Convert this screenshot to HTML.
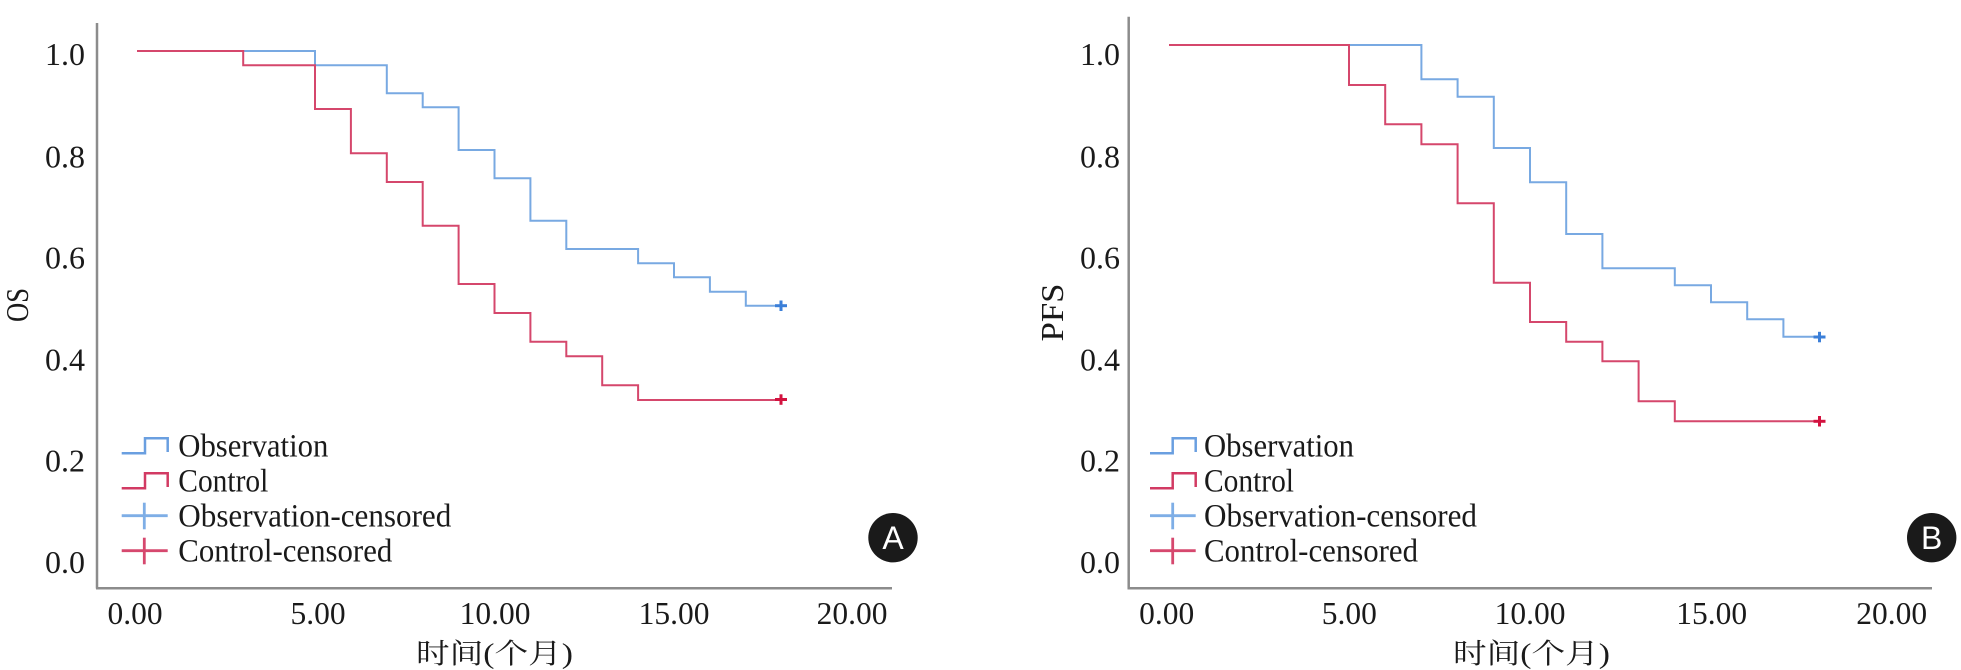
<!DOCTYPE html>
<html>
<head>
<meta charset="utf-8">
<style>
  html, body { margin: 0; padding: 0; background: #ffffff; }
  body { width: 1961px; height: 670px; overflow: hidden; }
  svg { display: block; }
  .t { font-family: "Liberation Serif", "Noto Serif CJK SC", serif; fill: #1a1a1a; }
  .cjk { font-family: "Liberation Serif", "Noto Serif CJK SC", serif; fill: #1a1a1a; }
  .badge { font-family: "Liberation Sans", sans-serif; fill: #ffffff; }
</style>
</head>
<body>
<svg width="1961" height="670" viewBox="0 0 1961 670" xmlns="http://www.w3.org/2000/svg">
  <rect width="1961" height="670" fill="#ffffff"/>

  <!-- ================= PANEL A ================= -->
  <!-- axes -->
  <line x1="97" y1="23" x2="97" y2="588.5" stroke="#8c8c8c" stroke-width="2.5"/>
  <line x1="96" y1="588.3" x2="892" y2="588.3" stroke="#8c8c8c" stroke-width="2.5"/>

  <!-- y tick labels -->
  <g class="t" font-size="32" text-anchor="end">
    <text x="85" y="65">1.0</text>
    <text x="85" y="167.5">0.8</text>
    <text x="85" y="268.5">0.6</text>
    <text x="85" y="370.5">0.4</text>
    <text x="85" y="471.5">0.2</text>
    <text x="85" y="573">0.0</text>
  </g>
  <!-- x tick labels -->
  <g class="t" font-size="31.5" text-anchor="middle">
    <text x="135" y="624">0.00</text>
    <text x="318" y="624">5.00</text>
    <text x="495" y="624">10.00</text>
    <text x="674" y="624">15.00</text>
    <text x="852" y="624">20.00</text>
  </g>
  <!-- axis titles -->
  <text class="t" font-size="32" text-anchor="middle" transform="translate(28,305) rotate(-90)" textLength="34" lengthAdjust="spacingAndGlyphs">OS</text>
  <text class="cjk" font-size="28" x="416" y="663" textLength="157" lengthAdjust="spacingAndGlyphs">时间(个月)</text>

  <!-- curves -->
  <path d="M137 51 H315 V65.3 H386.8 V93.3 H422.7 V107.3 H458.6 V150 H494.5 V178.3 H530.4 V220.7 H566.3 V249 H638.1 V263.3 H674 V277.3 H709.9 V291.7 H745.8 V305.7 H781.7"
        fill="none" stroke="#78a9e2" stroke-width="2"/>
  <path d="M137 51 H243.2 V65.3 H315 V109 H350.9 V153.3 H386.8 V182 H422.7 V225.7 H458.6 V284 H494.5 V313 H530.4 V341.7 H566.3 V356.3 H602.2 V385.3 H638.1 V400 H781.7"
        fill="none" stroke="#d5476c" stroke-width="2"/>
  <!-- censor marks -->
  <g stroke="#3b7fd8" stroke-width="3">
    <line x1="775" y1="305.7" x2="787" y2="305.7"/>
    <line x1="781" y1="300.5" x2="781" y2="311"/>
  </g>
  <g stroke="#d3123f" stroke-width="3">
    <line x1="775" y1="399.5" x2="787" y2="399.5"/>
    <line x1="781" y1="394.3" x2="781" y2="404.8"/>
  </g>

  <!-- legend A -->
  <path d="M121.7 453.3 H145 V438.3 H167.7 V452" fill="none" stroke="#6a9fe0" stroke-width="2.5"/>
  <path d="M121.7 488.3 H145 V473.3 H167.7 V487" fill="none" stroke="#d23a63" stroke-width="2.5"/>
  <g stroke="#7eaee6" stroke-width="2.8">
    <line x1="121.7" y1="515.7" x2="167.7" y2="515.7"/>
    <line x1="144.3" y1="502.7" x2="144.3" y2="529.3"/>
  </g>
  <g stroke="#d6486e" stroke-width="2.8">
    <line x1="121.7" y1="550.7" x2="167.7" y2="550.7"/>
    <line x1="144.3" y1="537.7" x2="144.3" y2="564.3"/>
  </g>
  <g class="t" font-size="33">
    <text x="178.3" y="456.5" textLength="150" lengthAdjust="spacingAndGlyphs">Observation</text>
    <text x="178.3" y="491.5" textLength="90" lengthAdjust="spacingAndGlyphs">Control</text>
    <text x="178.3" y="526.5" textLength="273" lengthAdjust="spacingAndGlyphs">Observation-censored</text>
    <text x="178.3" y="561.5" textLength="214" lengthAdjust="spacingAndGlyphs">Control-censored</text>
  </g>

  <!-- badge A -->
  <circle cx="893" cy="537.7" r="24.7" fill="#1a1a1a"/>
  <text class="badge" x="893" y="549" font-size="32" text-anchor="middle">A</text>

  <!-- ================= PANEL B ================= -->
  <line x1="1128.7" y1="16.7" x2="1128.7" y2="588.5" stroke="#8c8c8c" stroke-width="2.5"/>
  <line x1="1127.5" y1="588.3" x2="1932" y2="588.3" stroke="#8c8c8c" stroke-width="2.5"/>

  <g class="t" font-size="32" text-anchor="end">
    <text x="1120" y="65">1.0</text>
    <text x="1120" y="167.5">0.8</text>
    <text x="1120" y="268.5">0.6</text>
    <text x="1120" y="370.5">0.4</text>
    <text x="1120" y="471.5">0.2</text>
    <text x="1120" y="573">0.0</text>
  </g>
  <g class="t" font-size="31.5" text-anchor="middle">
    <text x="1166.7" y="624">0.00</text>
    <text x="1349.3" y="624">5.00</text>
    <text x="1530" y="624">10.00</text>
    <text x="1711.7" y="624">15.00</text>
    <text x="1891.7" y="624">20.00</text>
  </g>
  <text class="t" font-size="32" text-anchor="middle" transform="translate(1063,312.5) rotate(-90)" textLength="58" lengthAdjust="spacingAndGlyphs">PFS</text>
  <text class="cjk" font-size="28" x="1453" y="663" textLength="157" lengthAdjust="spacingAndGlyphs">时间(个月)</text>

  <path d="M1169 45 H1421.4 V79.3 H1457.6 V96.7 H1493.8 V148 H1530 V182.3 H1566.2 V234 H1602.4 V268.3 H1674.8 V285.3 H1711 V302.3 H1747.2 V319.3 H1783.4 V336.7 H1819.6"
        fill="none" stroke="#78a9e2" stroke-width="2"/>
  <path d="M1169 45 H1349 V85 H1385.2 V124.3 H1421.4 V144.3 H1457.6 V203.3 H1493.8 V282.7 H1530 V322 H1566.2 V341.7 H1602.4 V361.3 H1638.6 V401.3 H1674.8 V421.3 H1819.6"
        fill="none" stroke="#d5476c" stroke-width="2"/>
  <g stroke="#3b7fd8" stroke-width="3">
    <line x1="1813.5" y1="337" x2="1825.5" y2="337"/>
    <line x1="1819.5" y1="331.8" x2="1819.5" y2="342.3"/>
  </g>
  <g stroke="#d3123f" stroke-width="3">
    <line x1="1813.5" y1="421.3" x2="1825.5" y2="421.3"/>
    <line x1="1819.5" y1="416" x2="1819.5" y2="426.5"/>
  </g>

  <!-- legend B -->
  <path d="M1150 453.3 H1172.7 V438.3 H1195.7 V452" fill="none" stroke="#6a9fe0" stroke-width="2.5"/>
  <path d="M1150 488.3 H1172.7 V473.3 H1195.7 V487" fill="none" stroke="#d23a63" stroke-width="2.5"/>
  <g stroke="#7eaee6" stroke-width="2.8">
    <line x1="1150" y1="515.7" x2="1195.7" y2="515.7"/>
    <line x1="1172.7" y1="502.7" x2="1172.7" y2="529.3"/>
  </g>
  <g stroke="#d6486e" stroke-width="2.8">
    <line x1="1150" y1="550.7" x2="1195.7" y2="550.7"/>
    <line x1="1172.7" y1="537.7" x2="1172.7" y2="564.3"/>
  </g>
  <g class="t" font-size="33">
    <text x="1204" y="456.5" textLength="150" lengthAdjust="spacingAndGlyphs">Observation</text>
    <text x="1204" y="491.5" textLength="90" lengthAdjust="spacingAndGlyphs">Control</text>
    <text x="1204" y="526.5" textLength="273" lengthAdjust="spacingAndGlyphs">Observation-censored</text>
    <text x="1204" y="561.5" textLength="214" lengthAdjust="spacingAndGlyphs">Control-censored</text>
  </g>

  <circle cx="1931.7" cy="537.7" r="24.7" fill="#1a1a1a"/>
  <text class="badge" x="1931.7" y="549" font-size="32" text-anchor="middle">B</text>
</svg>
</body>
</html>
